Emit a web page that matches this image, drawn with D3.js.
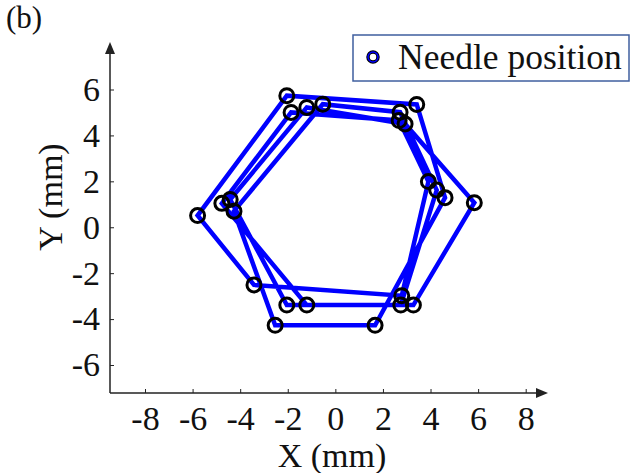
<!DOCTYPE html>
<html>
<head>
<meta charset="utf-8">
<script src="https://cdn.jsdelivr.net/npm/d3@7"></script>
<style>
  body { margin: 0; background: #fff; }
  svg text { font-family: "Liberation Serif", "Times New Roman", "DejaVu Serif", serif !important; fill: #111; }
</style>
</head>
<body>
<div id="chart"></div>
<script>
// needle trajectory (mm), in visiting order
const needleX = [-3.42, -5.79, -2.04, 3.42, 4.61, 1.67, -2.53, -4.26, -0.53, 2.72, 4.26, 2.75,
                 -2.04, -4.42, -1.20, 2.93, 5.84, 3.28, -1.20, -4.77, -1.86, 2.68, 3.91, 2.79];
const needleY = [-2.51, 0.51, 5.73, 5.35, 1.29, -4.27, -4.27, 0.70, 5.36, 5.01, 1.62, -3.39,
                 -3.39, 1.21, 5.22, 4.50, 1.07, -3.39, -3.39, 1.04, 5.00, 4.65, 1.99, -2.98];
const xTicks = [-8, -6, -4, -2, 0, 2, 4, 6, 8];
const yTicks = [-6, -4, -2, 0, 2, 4, 6];
const legendLabel = "Needle position";

const width = 634, height = 473;
const fontSize = 34;
const serif = "'Liberation Serif', 'Times New Roman', 'DejaVu Serif', serif";

const svg = d3.select("#chart").append("svg")
    .attr("width", width)
    .attr("height", height)
    .style("font-family", serif);

// scales
const x = d3.scaleLinear().domain([-8, 8]).range([145, 525.7]);
const y = d3.scaleLinear().domain([-6, 6]).range([365, 89.5]);

const axisLeft = 110, axisBottom = 393;

// axes lines with arrow heads
svg.append("line")
    .attr("x1", axisLeft).attr("x2", 540)
    .attr("y1", axisBottom).attr("y2", axisBottom)
    .attr("stroke", "#222").attr("stroke-width", 1.5);
svg.append("line")
    .attr("x1", axisLeft).attr("x2", axisLeft)
    .attr("y1", axisBottom).attr("y2", 50)
    .attr("stroke", "#222").attr("stroke-width", 1.5);
svg.append("path")
    .attr("d", `M${axisLeft},42 L${axisLeft - 5},54 L${axisLeft + 5},54 Z`)
    .attr("fill", "#222");
svg.append("path")
    .attr("d", `M548,${axisBottom} L536,${axisBottom - 5} L536,${axisBottom + 5} Z`)
    .attr("fill", "#222");

const fmt = d => String(d);

// x ticks
const xAxis = d3.axisBottom(x).tickValues(xTicks).tickSize(-4).tickPadding(13).tickFormat(fmt);
const gx = svg.append("g").attr("transform", `translate(0,${axisBottom})`).call(xAxis)
    .attr("font-family", serif);
gx.select(".domain").remove();
gx.selectAll(".tick line").attr("stroke", "#222");
gx.selectAll(".tick text")
    .attr("font-size", fontSize)
    .style("font-family", serif)
    .attr("fill", "#111");

// y ticks
const yAxis = d3.axisLeft(y).tickValues(yTicks).tickSize(-4).tickPadding(10).tickFormat(fmt);
const gy = svg.append("g").attr("transform", `translate(${axisLeft},0)`).call(yAxis)
    .attr("font-family", serif);
gy.select(".domain").remove();
gy.selectAll(".tick line").attr("stroke", "#222");
gy.selectAll(".tick text")
    .attr("font-size", fontSize)
    .style("font-family", serif)
    .attr("fill", "#111");

// axis titles
svg.append("text")
    .attr("x", 332).attr("y", 467)
    .attr("text-anchor", "middle")
    .attr("font-size", fontSize)
    .text("X (mm)");
svg.append("text")
    .attr("transform", "translate(62,197) rotate(-90)")
    .attr("text-anchor", "middle")
    .attr("font-size", fontSize)
    .text("Y (mm)");

// panel label
svg.append("text")
    .attr("x", 6).attr("y", 28)
    .attr("font-size", 31)
    .text("(b)");

// trajectory
const pts = needleX.map((v, i) => [v, needleY[i]]);
const line = d3.line()
    .x(d => x(d[0]))
    .y(d => y(d[1]))
    .curve(d3.curveLinearClosed);

svg.append("path")
    .datum(pts)
    .attr("d", line)
    .attr("fill", "none")
    .attr("stroke", "#0000ff")
    .attr("stroke-width", 4.5)
    .attr("stroke-linejoin", "miter");

svg.selectAll("circle.pt")
    .data(pts)
    .enter().append("circle")
    .attr("class", "pt")
    .attr("cx", d => x(d[0]))
    .attr("cy", d => y(d[1]))
    .attr("r", 7)
    .attr("fill", "none")
    .attr("stroke", "#000")
    .attr("stroke-width", 3);

// legend
const lg = svg.append("g");
lg.append("rect")
    .attr("x", 353).attr("y", 35)
    .attr("width", 276).attr("height", 46)
    .attr("fill", "#fff")
    .attr("stroke", "#3f5f9f")
    .attr("stroke-width", 1.5);
lg.append("circle")
    .attr("cx", 373).attr("cy", 57).attr("r", 5)
    .attr("fill", "none").attr("stroke", "#000").attr("stroke-width", 3.5);
lg.append("circle")
    .attr("cx", 373).attr("cy", 57).attr("r", 5)
    .attr("fill", "none").attr("stroke", "#0000ff").attr("stroke-width", 1.5);
lg.append("text")
    .attr("x", 398).attr("y", 69)
    .attr("font-size", 35.5)
    .text(legendLabel);
</script>
</body>
</html>
